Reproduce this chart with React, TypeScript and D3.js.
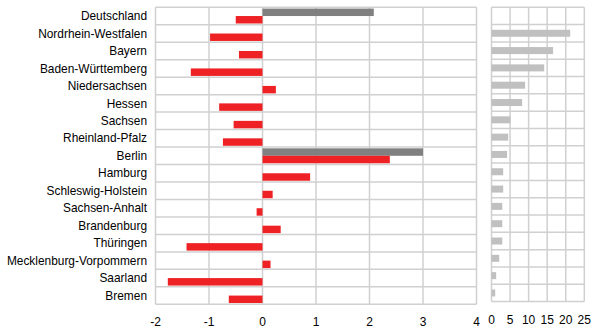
import React from "react";
import * as d3 from "d3";

const states = [
  "Deutschland",
  "Nordrhein-Westfalen",
  "Bayern",
  "Baden-Württemberg",
  "Niedersachsen",
  "Hessen",
  "Sachsen",
  "Rheinland-Pfalz",
  "Berlin",
  "Hamburg",
  "Schleswig-Holstein",
  "Sachsen-Anhalt",
  "Brandenburg",
  "Thüringen",
  "Mecklenburg-Vorpommern",
  "Saarland",
  "Bremen",
];

// gray series (only two values)
const grayValues: (number | null)[] = [
  2.08, null, null, null, null, null, null, null, 3.0, null, null, null, null, null, null, null, null,
];
// red series
const redValues: number[] = [
  -0.5, -0.98, -0.44, -1.34, 0.25, -0.81, -0.54, -0.74, 2.38, 0.89, 0.19, -0.11, 0.34, -1.42, 0.15, -1.77, -0.63,
];
// right panel values
const shareValues: (number | null)[] = [
  null, 21.2, 16.6, 14.2, 9.05, 8.25, 5.1, 4.5, 4.2, 3.15, 3.15, 2.9, 2.9, 2.9, 2.07, 1.26, 1.0,
];

const mainTicks = [-2, -1, 0, 1, 2, 3, 4];
const rightTicks = [0, 5, 10, 15, 20, 25];

const FONT = "'Liberation Sans', Arial, sans-serif";
const GRID = "#d0d0d0";

export default function App() {
  const W = 594;
  const H = 329;

  const x = d3.scaleLinear().domain([-2, 4]).range([155.5, 476.5]);
  const y = d3.scaleBand<string>().domain(states).range([7.3, 304.3]).padding(0);
  const sub = d3
    .scaleBand<string>()
    .domain(["gray", "red"])
    .range([0, y.bandwidth()])
    .paddingInner(0)
    .paddingOuter(0.17);

  const xr = d3.scaleLinear().domain([0, 25]).range([491.5, 584.3]);
  const yr = d3.scaleBand<string>().domain(states).range([7.3, 301.6]).padding(0);
  const rh = 7;

  return (
    <svg
      width={W}
      height={H}
      style={{ position: "absolute", left: 0, top: 0, background: "#fff" }}
      fontFamily={FONT}
    >
      {/* main panel grid */}
      <g>
        {states.map((s) => (
          <line
            key={"h" + s}
            x1={x.range()[0]}
            x2={x.range()[1]}
            y1={y(s)!}
            y2={y(s)!}
            stroke={GRID}
            strokeWidth={1.5}
          />
        ))}
        <line x1={x.range()[0]} x2={x.range()[1]} y1={y.range()[1]} y2={y.range()[1]} stroke={GRID} strokeWidth={1.5} />
        {mainTicks.map((t) => (
          <line key={"v" + t} x1={x(t)} x2={x(t)} y1={y.range()[0]} y2={y.range()[1]} stroke={GRID} strokeWidth={1.5} />
        ))}
      </g>
      {/* bars */}
      <g>
        {states.map((s, i) => {
          const g = grayValues[i];
          return g == null ? null : (
            <rect
              key={"g" + s}
              x={Math.min(x(0), x(g))}
              width={Math.abs(x(g) - x(0))}
              y={y(s)! + sub("gray")!}
              height={sub.bandwidth()}
              fill="#808080"
            />
          );
        })}
        {states.map((s, i) => {
          const v = redValues[i];
          return (
            <rect
              key={"r" + s}
              x={Math.min(x(0), x(v))}
              width={Math.abs(x(v) - x(0))}
              y={y(s)! + sub("red")!}
              height={sub.bandwidth()}
              fill="#ee2224"
            />
          );
        })}
      </g>
      {/* category labels */}
      <g fontSize={11.9} fill="#000" textAnchor="end">
        {states.map((s) => (
          <text key={"l" + s} x={147} y={y(s)! + y.bandwidth() / 2} dy="0.35em">
            {s}
          </text>
        ))}
      </g>
      {/* main ticks */}
      <g fontSize={12} textAnchor="middle">
        {mainTicks.map((t) => (
          <text key={"t" + t} x={x(t)} y={321.5} dy="0.35em">
            {t}
          </text>
        ))}
      </g>

      {/* right panel grid */}
      <g>
        {states.map((s) => (
          <line key={"rh" + s} x1={xr.range()[0]} x2={xr.range()[1]} y1={yr(s)!} y2={yr(s)!} stroke={GRID} strokeWidth={1.5} />
        ))}
        <line x1={xr.range()[0]} x2={xr.range()[1]} y1={yr.range()[1]} y2={yr.range()[1]} stroke={GRID} strokeWidth={1.5} />
        {rightTicks.map((t) => (
          <line key={"rv" + t} x1={xr(t)} x2={xr(t)} y1={yr.range()[0]} y2={yr.range()[1]} stroke={GRID} strokeWidth={1.5} />
        ))}
      </g>
      <g>
        {states.map((s, i) => {
          const v = shareValues[i];
          return v == null ? null : (
            <rect
              key={"rb" + s}
              x={xr(0)}
              width={xr(v) - xr(0)}
              y={yr(s)! + (yr.bandwidth() - rh) / 2}
              height={rh}
              fill="#c0c0c0"
            />
          );
        })}
      </g>
      <g fontSize={12} textAnchor="middle">
        {rightTicks.map((t) => (
          <text key={"rt" + t} x={xr(t)} y={320} dy="0.35em">
            {t}
          </text>
        ))}
      </g>
    </svg>
  );
}
